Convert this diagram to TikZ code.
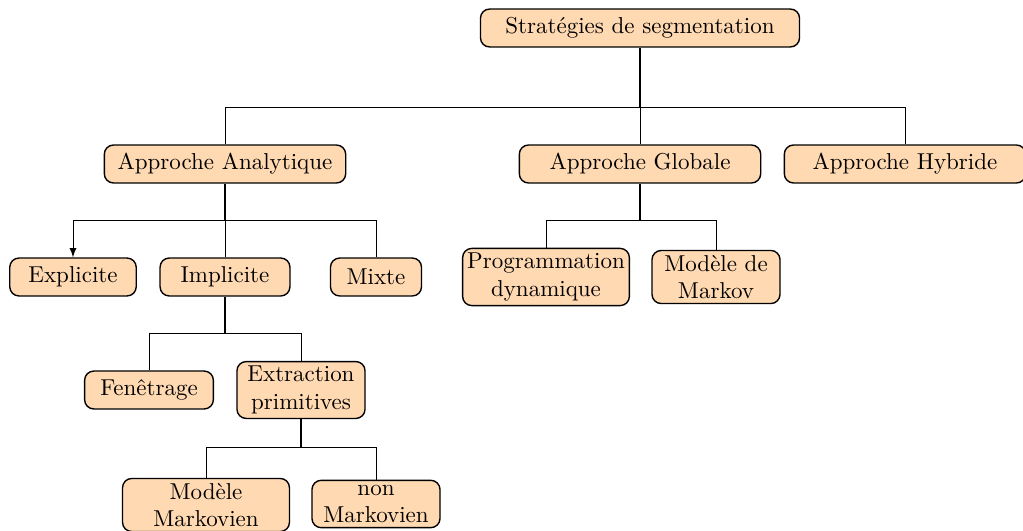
\documentclass[tikz,border=0pt]{standalone}
\usepackage{tikz}
\usetikzlibrary{calc}
\usetikzlibrary{arrows}

\tikzset{
  boite/.style={draw, semithick, rounded corners=4pt, fill=orange!30,
    align=center, inner sep=2pt, minimum height=16.5pt},
}

\begin{document}
\begin{tikzpicture}[x=0.435pt, y=-0.435pt]
  \useasboundingbox (0,0) rectangle (1023,531);
  % niveau 0
  \node [boite, minimum width=138.8pt] (strat) at (640,28) {Stratégies de segmentation};
  % niveau 1
  \node [boite, minimum width=105pt] (analytique) at (225,164) {Approche Analytique};
  \node [boite, minimum width=105pt] (globale) at (640,164) {Approche Globale};
  \node [boite, minimum width=105pt] (hybride) at (905,164) {Approche Hybride};
  \coordinate (j1) at (640,107);
  \draw [semithick] (strat.south) -- (j1);
  \draw (j1) -| (analytique.north);
  \draw (j1) -- (globale.north);
  \draw (j1) -| (hybride.north);
  % approche analytique
  \node [boite, minimum width=55pt] (explicite) at (73,277) {Explicite};
  \node [boite, minimum width=56.5pt] (implicite) at (225,277) {Implicite};
  \node [boite, minimum width=39.6pt] (mixte) at (376,277) {Mixte};
  \coordinate (j2) at (225,220);
  \draw [semithick] (analytique.south) -- (j2);
  \draw [-latex] (j2) -| (explicite.north);
  \draw (j2) -- (implicite.north);
  \draw (j2) -| (mixte.north);
  % approche globale
  \node [boite, minimum width=72pt] (progdyn) at (546,277) {Programmation\\dynamique};
  \node [boite, minimum width=55.7pt] (markov) at (716,277) {Modèle de\\Markov};
  \coordinate (j3) at (640,220);
  \draw [semithick] (globale.south) -- (j3);
  \draw (j3) -| (progdyn.north);
  \draw (j3) -| (markov.north);
  % implicite
  \node [boite, minimum width=56pt] (fenetrage) at (149,390) {Fenêtrage};
  \node [boite, minimum width=55.7pt] (extraction) at (301,390) {Extraction\\primitives};
  \coordinate (j4) at (225,333);
  \draw [semithick] (implicite.south) -- (j4);
  \draw (j4) -| (fenetrage.north);
  \draw (j4) -| (extraction.north);
  % extraction primitives
  \node [boite, minimum width=72.6pt] (markovien) at (206,505) {Modèle\\Markovien};
  \node [boite, minimum width=55.7pt] (nonmarkovien) at (376,504) {non\\Markovien};
  \coordinate (j5) at (301,447);
  \draw [semithick] (extraction.south) -- (j5);
  \draw (j5) -| (markovien.north);
  \draw (j5) -| (nonmarkovien.north);
\end{tikzpicture}
\end{document}
